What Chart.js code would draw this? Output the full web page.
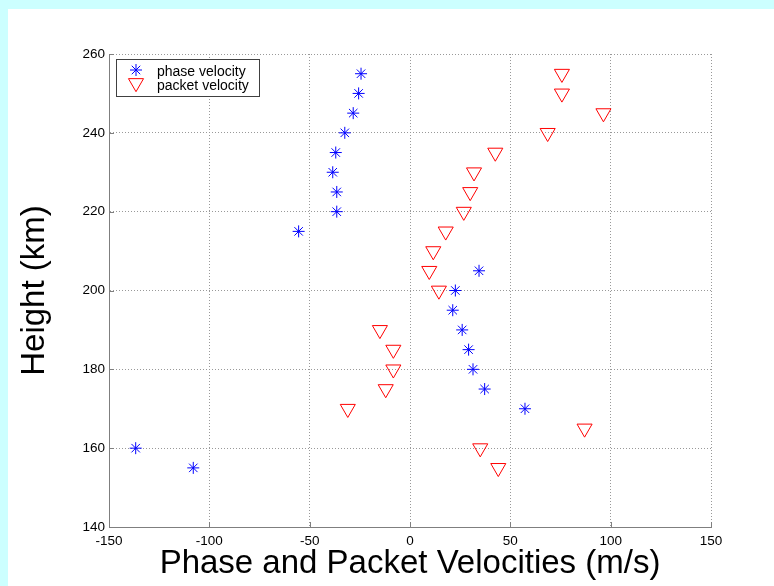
<!DOCTYPE html>
<html>
<head>
<meta charset="utf-8">
<script src="https://cdn.jsdelivr.net/npm/chart.js@4/dist/chart.umd.min.js"></script>
<style>
  html, body { margin: 0; padding: 0; background: #ccffff; width: 774px; height: 586px; overflow: hidden; }
  #panel { position: absolute; left: 8px; top: 9px; right: 0; bottom: 0; background: #ffffff; }
  #wrap { position: absolute; left: 0; top: 0; width: 774px; height: 586px; }
</style>
</head>
<body>
<div id="panel"></div>
<div id="wrap"><canvas id="c" width="774" height="586"></canvas></div>
<script>
// ---- data ----
const phaseHeights = [255, 250, 245, 240, 235, 230, 225, 220, 215, 205, 200, 195, 190, 185, 180, 175, 170, 160, 155];
const phaseVelocity = [-24.4, -25.6, -28.3, -32.5, -37, -38.5, -36.5, -36.5, -55.5, 34.4, 22.6, 21.3, 26, 29.2, 31.4, 37.2, 57.3, -136.7, -108];

const packetHeights = [255, 250, 245, 240, 235, 230, 225, 220, 215, 210, 205, 200, 190, 185, 180, 175, 170, 165, 160, 155];
const packetVelocity = [75.7, 75.7, 96.4, 68.6, 42.5, 31.9, 30, 26.8, 17.8, 11.6, 9.6, 14.4, -15, -8.3, -8.3, -12.1, -31, 87, 35, 44];

const xTicks = [-150, -100, -50, 0, 50, 100, 150];
const yTicks = [140, 160, 180, 200, 220, 240, 260];

const seriesNames = ['phase velocity', 'packet velocity'];
const xTitle = 'Phase and Packet Velocities (m/s)';
const yTitle = 'Height (km)';

const FONT = 'Arial, "Liberation Sans", Helvetica, sans-serif';

function toPoints(xs, ys) { return xs.map((v, i) => ({ x: v, y: ys[i] })); }

const inwardTicks = {
  id: 'inwardTicks',
  afterDatasetsDraw(chart) {
    const ctx = chart.ctx, a = chart.chartArea;
    const xs = chart.scales.x, ys = chart.scales.y;
    ctx.save();
    ctx.strokeStyle = '#7f7f7f';
    ctx.lineWidth = 1;
    ctx.beginPath();
    xTicks.forEach(v => {
      const px = Math.round(xs.getPixelForValue(v)) + 0.5;
      ctx.moveTo(px, a.bottom); ctx.lineTo(px, a.bottom - 5);
    });
    yTicks.forEach(v => {
      const py = Math.round(ys.getPixelForValue(v)) + 0.5;
      ctx.moveTo(a.left, py); ctx.lineTo(a.left + 5, py);
    });
    ctx.stroke();
    ctx.restore();
  }
};

const insideLegend = {
  id: 'insideLegend',
  afterDraw(chart) {
    const ctx = chart.ctx, a = chart.chartArea;
    const bx = a.left + 7, by = a.top + 5, bw = 143, bh = 37;
    ctx.save();
    ctx.fillStyle = '#ffffff';
    ctx.fillRect(bx, by, bw, bh);
    ctx.strokeStyle = '#404040';
    ctx.lineWidth = 1;
    ctx.strokeRect(bx + 0.5, by + 0.5, bw, bh);
    const rows = [by + 11, by + 25];
    chart.data.datasets.forEach((ds, i) => {
      const style = {
        pointStyle: ds.pointStyle,
        radius: ds.pointRadius,
        rotation: ds.rotation || 0,
        borderWidth: ds.borderWidth
      };
      ctx.strokeStyle = ds.borderColor;
      ctx.fillStyle = 'rgba(0,0,0,0)';
      ctx.lineWidth = ds.borderWidth;
      Chart.helpers.drawPoint(ctx, style, bx + 20, rows[i] + (i === 1 ? -1 : 0));
      ctx.fillStyle = '#000000';
      ctx.font = '14px ' + FONT;
      ctx.textBaseline = 'middle';
      ctx.textAlign = 'left';
      ctx.fillText(seriesNames[i], bx + 41, rows[i] + 2);
    });
    ctx.restore();
  }
};

new Chart(document.getElementById('c'), {
  type: 'scatter',
  data: {
    datasets: [
      {
        label: seriesNames[0],
        data: toPoints(phaseVelocity, phaseHeights),
        pointStyle: 'star',
        pointRadius: 6,
        borderColor: '#0000ff',
        backgroundColor: '#0000ff',
        borderWidth: 1
      },
      {
        label: seriesNames[1],
        data: toPoints(packetVelocity, packetHeights),
        pointStyle: 'triangle',
        rotation: 180,
        pointRadius: 8.7,
        borderColor: '#ff0000',
        backgroundColor: 'rgba(0,0,0,0)',
        borderWidth: 1
      }
    ]
  },
  options: {
    responsive: false,
    animation: false,
    events: [],
    layout: { padding: { left: 0, top: 54, right: 63, bottom: 0 } },
    plugins: { legend: { display: false }, tooltip: { enabled: false } },
    scales: {
      x: {
        type: 'linear',
        min: -150, max: 150,
        afterBuildTicks: s => { s.ticks = xTicks.map(v => ({ value: v })); },
        afterFit: s => { s.height = 59; },
        ticks: { color: '#000', font: { family: FONT, size: 13.5 }, padding: 6, maxRotation: 0 },
        grid: { color: '#999999', lineWidth: 1, drawTicks: false, tickLength: 0 },
        border: { display: true, color: '#7f7f7f', width: 1, dash: [1, 2] },
        title: { display: true, text: xTitle, color: '#000', font: { family: FONT, size: 33 }, padding: { top: 0, bottom: 2.2 } }
      },
      y: {
        type: 'linear',
        min: 140, max: 260,
        afterBuildTicks: s => { s.ticks = yTicks.map(v => ({ value: v })); },
        afterFit: s => { s.width = 109; },
        ticks: { color: '#000', font: { family: FONT, size: 13.5 }, padding: 4 },
        grid: { color: '#999999', lineWidth: 1, drawTicks: false, tickLength: 0 },
        border: { display: true, color: '#7f7f7f', width: 1, dash: [1, 2] },
        title: { display: true, text: yTitle, color: '#000', font: { family: FONT, size: 33 }, padding: { top: 15.2, bottom: 0 } }
      }
    }
  },
  plugins: [inwardTicks, insideLegend]
});
</script>
</body>
</html>
